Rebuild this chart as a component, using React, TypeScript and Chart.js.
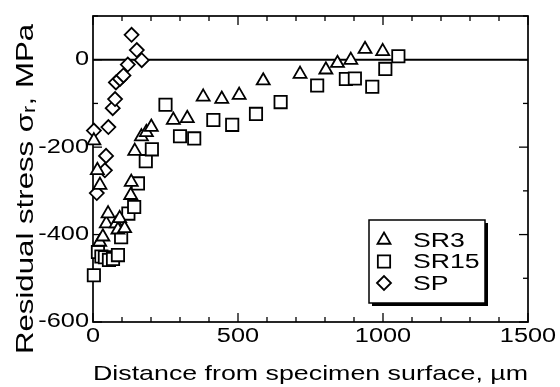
import React, { useEffect, useRef } from "react";
import { Chart, registerables } from "chart.js";
import { drawPoint } from "chart.js/helpers";

Chart.register(...registerables);

// ---- data ----
const seriesNames = ["SR3", "SR15", "SP"];

const sr3Depth = [3, 15, 24, 23, 34, 46, 52, 80, 86, 92, 109, 130, 132, 144, 167, 184, 201, 277, 325, 380, 444, 504, 587, 714, 803, 843, 889, 938, 999];
const sr3Stress = [-185, -253, -287, -417, -405, -375, -352, -375, -389, -363, -386, -310, -280, -209, -176, -166, -154, -138, -134, -85, -90, -81, -48, -33, -23, -8, -1, 24, 19];

const sr15Depth = [3, 17, 29, 41, 55, 69, 86, 97, 122, 142, 155, 182, 203, 250, 300, 349, 415, 480, 562, 647, 773, 872, 903, 963, 1008, 1053];
const sr15Stress = [-493, -440, -450, -452, -458, -456, -447, -406, -352, -337, -283, -232, -205, -103, -175, -180, -138, -149, -124, -97, -59, -44, -43, -62, -21, 8];

const spDepth = [3, 13, 41, 45, 53, 68, 76, 79, 93, 105, 120, 133, 151, 168];
const spStress = [-162, -305, -253, -220, -154, -111, -90, -52, -44, -36, -11, 57, 22, -1];

const xTickValues = [0, 500, 1000, 1500];
const xTickLabels = ["0", "500", "1000", "1500"];
const yTickValues = [-600, -400, -200, 0];
const yTickLabels = ["-600", "-400", "-200", "0"];
const xMinorStep = 100;
const yMinorStep = 100;

const xTitle = "Distance from specimen surface, µm";
const yTitle = "Residual stress σᵣ, MPa";

const FONT = "'Liberation Sans', Arial, Helvetica, sans-serif";
const TEXT_STRETCH = 1.3;
const MARK_W = 1.8;

const stretchTextPlugin = {
  id: "stretchText",
  afterLayout(chart: any) {
    // the y-axis title sits lower than the centre of the plot in the reference
    const ys = chart.scales.y;
    ys.top = ys.top + 40;
  },
  beforeDraw(chart: any) {
    const ctx: any = chart.ctx;
    if (ctx.__stretched) return;
    const orig = ctx.fillText.bind(ctx);
    ctx.fillText = (t: string, x: number, y: number, mw?: number) => {
      ctx.save();
      ctx.translate(x, y);
      ctx.scale(TEXT_STRETCH, 1);
      if (mw === undefined || mw === null) orig(t, 0, 0);
      else orig(t, 0, 0, mw / TEXT_STRETCH);
      ctx.restore();
    };
    ctx.__stretched = true;
  },
};

const framePlugin = {
  id: "frame",
  beforeDatasetsDraw(chart: any) {
    const { ctx, chartArea, scales } = chart;
    const { left, right, top, bottom } = chartArea;
    const x = scales.x;
    const y = scales.y;
    const line = (x1: number, y1: number, x2: number, y2: number) => {
      ctx.beginPath();
      ctx.moveTo(x1, y1);
      ctx.lineTo(x2, y2);
      ctx.stroke();
    };
    ctx.save();
    ctx.strokeStyle = "#000";
    ctx.lineWidth = 2;
    const y0 = y.getPixelForValue(0);
    line(left, y0, right, y0);
    ctx.lineWidth = 1.7;
    ctx.strokeRect(left, top, right - left, bottom - top);
    ctx.lineWidth = 1.3;
    for (let v = x.min; v <= x.max + 0.001; v += xMinorStep) {
      const px = x.getPixelForValue(v);
      const len = xTickValues.includes(v) ? 9 : 5;
      line(px, bottom, px, bottom - len);
      line(px, top, px, top + len);
    }
    for (let v = y.min; v <= y.max + 0.001; v += yMinorStep) {
      const py = y.getPixelForValue(v);
      const len = yTickValues.includes(v) ? 9 : 5;
      line(left, py, left + len, py);
      line(right, py, right - len, py);
    }
    ctx.restore();
  },
};

const legendPlugin = {
  id: "boxLegend",
  afterDraw(chart: any) {
    const { ctx, chartArea } = chart;
    const right = chartArea.right - 43;
    const bottom = chartArea.bottom - 19;
    const w = 116;
    const h = 83;
    const left = right - w;
    const top = bottom - h;
    ctx.save();
    ctx.fillStyle = "#000";
    ctx.fillRect(left + 3, top + 3, w, h);
    ctx.fillStyle = "#fff";
    ctx.fillRect(left, top, w, h);
    ctx.strokeStyle = "#000";
    ctx.lineWidth = 1.5;
    ctx.strokeRect(left, top, w, h);
    chart.data.datasets.forEach((ds: any, i: number) => {
      const cy = top + 20 + i * 21.5;
      ctx.fillStyle = "#fff";
      ctx.strokeStyle = "#000";
      ctx.lineWidth = MARK_W;
      drawPoint(ctx, { pointStyle: ds.pointStyle, radius: ds.pointRadius, borderWidth: MARK_W, rotation: 0 } as any, left + 15, cy);
      ctx.fillStyle = "#000";
      ctx.font = `20.5px ${FONT}`;
      ctx.textAlign = "left";
      ctx.textBaseline = "middle";
      ctx.fillText(ds.label, left + 44, cy + 1);
    });
    ctx.restore();
  },
};

function pts(xs: number[], ys: number[]) {
  return xs.map((x, i) => ({ x, y: ys[i] }));
}

export default function App() {
  const ref = useRef<HTMLCanvasElement | null>(null);
  useEffect(() => {
    if (!ref.current) return;
    const common = {
      borderColor: "#000",
      backgroundColor: "#fff",
      pointBorderWidth: MARK_W,
      pointBackgroundColor: "#fff",
      pointBorderColor: "#000",
      showLine: false,
      clip: false as any,
    };
    const chart = new Chart(ref.current, {
      type: "scatter",
      data: {
        datasets: [
          { ...common, label: seriesNames[0], data: pts(sr3Depth, sr3Stress), pointStyle: "triangle", pointRadius: 7.5 },
          { ...common, label: seriesNames[1], data: pts(sr15Depth, sr15Stress), pointStyle: "rect", pointRadius: 8.7 },
          { ...common, label: seriesNames[2], data: pts(spDepth, spStress), pointStyle: "rectRot", pointRadius: 7 },
        ],
      },
      options: {
        animation: false,
        responsive: false,
        devicePixelRatio: 1,
        layout: { padding: { left: 0, top: 16, right: 32, bottom: 0 } },
        plugins: { legend: { display: false }, tooltip: { enabled: false } },
        scales: {
          x: {
            type: "linear",
            min: 0,
            max: 1500,
            grid: { display: false, drawTicks: false },
            border: { display: false },
            afterBuildTicks: (s: any) => {
              s.ticks = xTickValues.map((v) => ({ value: v }));
            },
            afterFit: (s: any) => {
              s.height = 65;
            },
            ticks: {
              color: "#000",
              padding: 3,
              maxRotation: 0,
              autoSkip: false,
              font: { family: FONT, size: 19.5 },
              callback: (v: any) => xTickLabels[xTickValues.indexOf(Number(v))] ?? String(v),
            },
            title: { display: true, text: xTitle, color: "#000", font: { family: FONT, size: 20.7 }, padding: { top: 0, bottom: 0 } },
          },
          y: {
            type: "linear",
            min: -600,
            max: 100,
            grid: { display: false, drawTicks: false },
            border: { display: false },
            afterBuildTicks: (s: any) => {
              s.ticks = yTickValues.map((v) => ({ value: v }));
            },
            afterFit: (s: any) => {
              s.width = 93;
            },
            ticks: {
              color: "#000",
              padding: 4,
              autoSkip: false,
              font: { family: FONT, size: 19.5 },
              callback: (v: any) => yTickLabels[yTickValues.indexOf(Number(v))] ?? String(v),
            },
            title: { display: true, text: yTitle, color: "#000", font: { family: FONT, size: 24 }, padding: { top: 12, bottom: 0 } },
          },
        },
      },
      plugins: [stretchTextPlugin, framePlugin, legendPlugin],
    } as any);
    return () => chart.destroy();
  }, []);
  return (
    <div style={{ position: "absolute", left: 0, top: 0, width: 560, height: 387, background: "#fff" }}>
      <canvas ref={ref} width={560} height={387} style={{ display: "block" }} />
    </div>
  );
}
